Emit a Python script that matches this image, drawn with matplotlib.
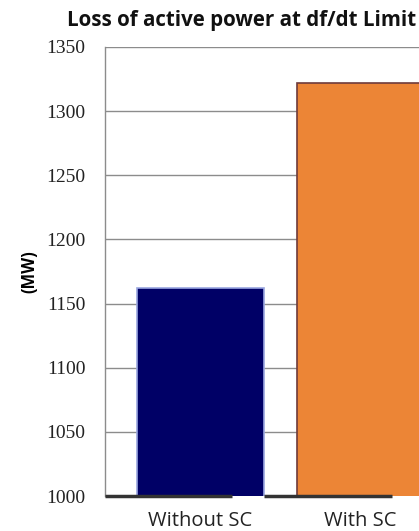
import matplotlib
matplotlib.use("Agg")
import matplotlib.pyplot as plt
import numpy as np

categories = ["Without SC", "With SC"]
values = [1162, 1322]
colors = ["#000066", "#EC8536"]
edge_colors = ["#9aa6e0", "#6e3b3b"]
y_ticks = [1000, 1050, 1100, 1150, 1200, 1250, 1300, 1350]

fig = plt.figure(figsize=(4.19, 5.31), dpi=100)
ax = fig.add_axes([0.2506, 0.0659, 0.7494, 0.8456])

x = np.arange(len(categories))
ax.bar(x, values, width=0.79, color=colors, edgecolor=edge_colors,
       linewidth=1.2, zorder=3)

# dark base segments under each category (slightly offset like the original)
for xi in x:
    ax.hlines(1000, xi - 0.6, xi + 0.2, color="#333333", linewidth=2.5,
              zorder=4, clip_on=False)

ax.set_ylim(1000, 1350)
ax.set_xlim(-0.597, 1.366)
ax.set_yticks(y_ticks)
ax.set_yticklabels([str(t) for t in y_ticks])
for lbl in ax.get_yticklabels():
    lbl.set_family(["Liberation Serif", "DejaVu Serif"])
    lbl.set_fontsize(14)
    lbl.set_color("#222222")
ax.set_xticks(x)
ax.set_xticklabels(categories)
for lbl in ax.get_xticklabels():
    lbl.set_family(["Open Sans", "DejaVu Sans"])
    lbl.set_fontsize(14.5)
    lbl.set_color("#222222")
ax.tick_params(axis="both", length=0)
ax.tick_params(axis="y", pad=14)
ax.tick_params(axis="x", pad=11)

ax.grid(axis="y", color="#8c8c8c", linewidth=1, zorder=0)
for side in ["top", "right", "bottom"]:
    ax.spines[side].set_visible(False)
ax.spines["left"].set_color("#8c8c8c")
ax.spines["left"].set_linewidth(1)

ax.set_ylabel("(MW)", family=["Open Sans", "DejaVu Sans"], fontweight="bold",
              fontsize=12, labelpad=6)
fig.text(0.576, 0.962, "Loss of active power at df/dt Limit",
         family=["Open Sans", "DejaVu Sans"], fontweight="bold", fontsize=14.8,
         ha="center", va="center", color="#111111")

fig.savefig("out.png", dpi=100)
